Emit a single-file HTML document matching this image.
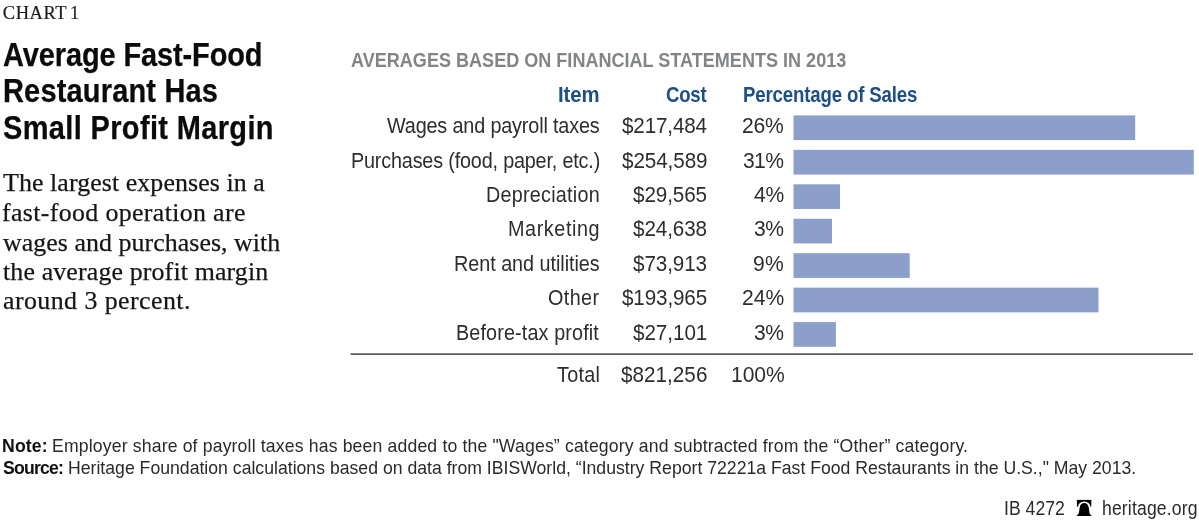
<!DOCTYPE html>
<html><head><meta charset="utf-8"><title>Chart 1: Average Fast-Food Restaurant Has Small Profit Margin</title>
<style>
html,body{margin:0;padding:0;background:#fff;}
body{width:1199px;height:522px;position:relative;overflow:hidden;font-family:"Liberation Sans",sans-serif;color:#1a1a1a;}
.t{position:absolute;white-space:nowrap;line-height:1;transform-origin:0 0;}
.chartno{font-family:"Liberation Serif",serif;color:#1c1c1c;word-spacing:-2px;-webkit-text-stroke:0.2px #1c1c1c;}
.title{font-weight:bold;color:#0b0b0b;-webkit-text-stroke:0.25px #0b0b0b;}
.sub{font-family:"Liberation Serif",serif;color:#161616;-webkit-text-stroke:0.25px #161616;}
.sec{font-weight:bold;color:#838486;}
.hd{font-weight:bold;color:#1b4e8d;}
.r{color:#2d2d2d;}
.note{color:#2a2a2a;}
.b{font-weight:bold;color:#111;}
.foot{color:#2a2a2a;}
svg{position:absolute;left:0;top:0;}
</style></head><body>
<svg width="1199" height="522" viewBox="0 0 1199 522">
<rect x="793.5" y="115.40" width="341.7" height="24.7" fill="#8c9fca"/>
<rect x="793.5" y="149.85" width="400.3" height="24.7" fill="#8c9fca"/>
<rect x="793.5" y="184.30" width="46.5" height="24.7" fill="#8c9fca"/>
<rect x="793.5" y="218.75" width="38.5" height="24.7" fill="#8c9fca"/>
<rect x="793.5" y="253.20" width="116.2" height="24.7" fill="#8c9fca"/>
<rect x="793.5" y="287.65" width="305" height="24.7" fill="#8c9fca"/>
<rect x="793.5" y="322.10" width="42.4" height="24.7" fill="#8c9fca"/>
<rect x="350.6" y="353.4" width="842.4" height="1.4" fill="#353535"/>
<g id="bell"><rect x="1076.9" y="499.9" width="14.4" height="6.7" fill="#000"/><circle cx="1084.2" cy="507.9" r="6.5" fill="#fff"/><path d="M1084.2,503 C1081.7,503 1079.9,504.9 1079.7,507.6 L1079,512.2 C1078.8,513.7 1078,514.9 1076.1,515.9 L1092.1,515.9 C1090.3,514.9 1089.6,513.7 1089.4,512.2 L1088.7,507.6 C1088.5,504.9 1086.7,503 1084.2,503 Z" fill="#000"/></g>
</svg>
<header>
<div class="t chartno" id="chartno" style="left:2.80px;top:4.40px;font-size:18.5px;letter-spacing:0.538px;">CHART 1</div>
<div class="t title" id="t1" style="left:2.75px;top:38.91px;font-size:32.6px;letter-spacing:-0.141px;transform:scaleX(0.89);">Average Fast-Food</div>
<div class="t title" id="t2" style="left:3.45px;top:75.41px;font-size:32.6px;letter-spacing:0.194px;transform:scaleX(0.89);">Restaurant Has</div>
<div class="t title" id="t3" style="left:3.05px;top:111.91px;font-size:32.6px;letter-spacing:0.393px;transform:scaleX(0.89);">Small Profit Margin</div>
<div class="t sub" id="s1" style="left:2.75px;top:170.00px;font-size:25.4px;letter-spacing:0.079px;transform:scaleX(1.02);">The largest expenses in a</div>
<div class="t sub" id="s2" style="left:2.25px;top:200.00px;font-size:25.4px;letter-spacing:0.337px;transform:scaleX(1.02);">fast-food operation are</div>
<div class="t sub" id="s3" style="left:2.60px;top:230.40px;font-size:25.4px;letter-spacing:0.045px;transform:scaleX(1.02);">wages and purchases, with</div>
<div class="t sub" id="s4" style="left:3.00px;top:259.00px;font-size:25.4px;letter-spacing:0.131px;transform:scaleX(1.02);">the average profit margin</div>
<div class="t sub" id="s5" style="left:2.90px;top:288.00px;font-size:25.4px;letter-spacing:0.422px;transform:scaleX(1.02);">around 3 percent.</div>
</header>
<section class="table">
<div class="t sec" id="sec" style="left:351.30px;top:50.00px;font-size:20.4px;letter-spacing:0.007px;transform:scaleX(0.885);">AVERAGES BASED ON FINANCIAL STATEMENTS IN 2013</div>
<div class="t hd" id="hItem" style="left:558.25px;top:85.21px;font-size:21.4px;letter-spacing:-0.104px;transform:scaleX(0.95);">Item</div>
<div class="t hd" id="hCost" style="left:666.10px;top:85.21px;font-size:21.4px;letter-spacing:-0.283px;transform:scaleX(0.87);">Cost</div>
<div class="t hd" id="hPct" style="left:742.50px;top:85.21px;font-size:21.4px;letter-spacing:-0.157px;transform:scaleX(0.87);">Percentage of Sales</div>
<div class="t r" id="i0" style="left:386.50px;top:115.91px;font-size:21.5px;letter-spacing:-0.155px;transform:scaleX(0.92);">Wages and payroll taxes</div>
<div class="t r" id="c0" style="left:622.05px;top:115.91px;font-size:21.5px;letter-spacing:-0.150px;transform:scaleX(0.96);">$217,484</div>
<div class="t r" id="p0" style="left:742.00px;top:115.91px;font-size:21.5px;letter-spacing:-0.226px;transform:scaleX(0.98);">26%</div>
<div class="t r" id="i1" style="left:350.50px;top:151.00px;font-size:21.5px;letter-spacing:-0.185px;transform:scaleX(0.92);">Purchases (food, paper, etc.)</div>
<div class="t r" id="c1" style="left:621.85px;top:151.00px;font-size:21.5px;letter-spacing:-0.077px;transform:scaleX(0.96);">$254,589</div>
<div class="t r" id="p1" style="left:743.40px;top:151.00px;font-size:21.5px;letter-spacing:-0.634px;transform:scaleX(0.98);">31%</div>
<div class="t r" id="i2" style="left:486.10px;top:184.80px;font-size:21.5px;letter-spacing:0.263px;transform:scaleX(0.92);">Depreciation</div>
<div class="t r" id="c2" style="left:633.40px;top:184.80px;font-size:21.5px;letter-spacing:-0.105px;transform:scaleX(0.96);">$29,565</div>
<div class="t r" id="p2" style="left:754.00px;top:184.80px;font-size:21.5px;letter-spacing:-0.216px;transform:scaleX(0.98);">4%</div>
<div class="t r" id="i3" style="left:508.00px;top:219.25px;font-size:21.5px;letter-spacing:0.643px;transform:scaleX(0.92);">Marketing</div>
<div class="t r" id="c3" style="left:632.70px;top:219.25px;font-size:21.5px;letter-spacing:-0.098px;transform:scaleX(0.96);">$24,638</div>
<div class="t r" id="p3" style="left:754.25px;top:219.25px;font-size:21.5px;letter-spacing:-0.395px;transform:scaleX(0.98);">3%</div>
<div class="t r" id="i4" style="left:453.50px;top:253.71px;font-size:21.5px;letter-spacing:-0.033px;transform:scaleX(0.92);">Rent and utilities</div>
<div class="t r" id="c4" style="left:632.70px;top:253.71px;font-size:21.5px;letter-spacing:-0.098px;transform:scaleX(0.96);">$73,913</div>
<div class="t r" id="p4" style="left:753.00px;top:253.71px;font-size:21.5px;letter-spacing:0.265px;transform:scaleX(0.98);">9%</div>
<div class="t r" id="i5" style="left:547.95px;top:288.16px;font-size:21.5px;letter-spacing:0.440px;transform:scaleX(0.92);">Other</div>
<div class="t r" id="c5" style="left:622.05px;top:288.16px;font-size:21.5px;letter-spacing:-0.140px;transform:scaleX(0.96);">$193,965</div>
<div class="t r" id="p5" style="left:742.25px;top:288.16px;font-size:21.5px;letter-spacing:-0.001px;transform:scaleX(0.98);">24%</div>
<div class="t r" id="i6" style="left:455.50px;top:322.60px;font-size:21.5px;letter-spacing:0.144px;transform:scaleX(0.92);">Before-tax profit</div>
<div class="t r" id="c6" style="left:633.25px;top:322.60px;font-size:21.5px;letter-spacing:-0.052px;transform:scaleX(0.96);">$27,101</div>
<div class="t r" id="p6" style="left:754.25px;top:322.60px;font-size:21.5px;letter-spacing:-0.395px;transform:scaleX(0.98);">3%</div>
<div class="t r" id="i7" style="left:557.30px;top:364.91px;font-size:21.5px;letter-spacing:0.286px;transform:scaleX(0.92);">Total</div>
<div class="t r" id="c7" style="left:621.05px;top:364.91px;font-size:21.5px;letter-spacing:0.042px;transform:scaleX(0.96);">$821,256</div>
<div class="t r" id="p7" style="left:730.60px;top:364.91px;font-size:21.5px;letter-spacing:-0.047px;transform:scaleX(0.98);">100%</div>
</section>
<footer>
<div class="t note b" id="n1b" style="left:2.00px;top:436.51px;font-size:18.2px;letter-spacing:0.149px;transform:scaleX(0.97);">Note:</div>
<div class="t note" id="n1" style="left:52.05px;top:436.51px;font-size:18.2px;letter-spacing:0.152px;transform:scaleX(0.97);">Employer share of payroll taxes has been added to the "Wages” category and subtracted from the “Other” category.</div>
<div class="t note b" id="n2b" style="left:2.50px;top:458.51px;font-size:18.2px;letter-spacing:-0.829px;transform:scaleX(0.97);">Source:</div>
<div class="t note" id="n2" style="left:67.65px;top:458.51px;font-size:18.2px;letter-spacing:0.002px;transform:scaleX(0.97);">Heritage Foundation calculations based on data from IBISWorld, “Industry Report 72221a Fast Food Restaurants in the U.S.," May 2013.</div>
<div class="t foot" id="f1" style="left:1004.00px;top:498.00px;font-size:20px;letter-spacing:0.039px;transform:scaleX(0.88);">IB 4272</div>
<div class="t foot" id="f2" style="left:1101.50px;top:498.00px;font-size:20px;letter-spacing:0.164px;transform:scaleX(0.88);">heritage.org</div>
</footer>
</body></html>
